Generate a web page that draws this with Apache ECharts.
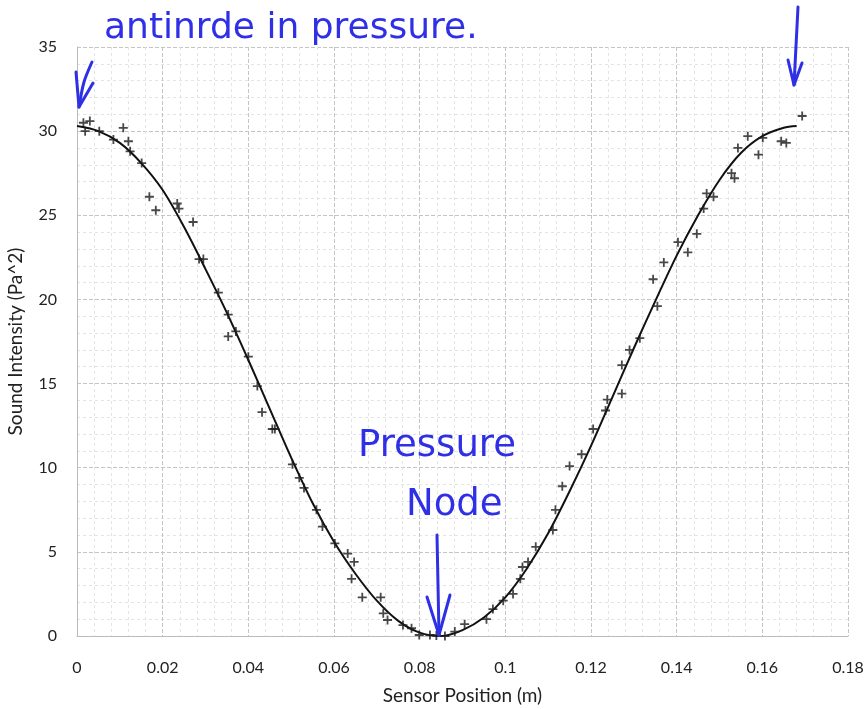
<!DOCTYPE html>
<html>
<head>
<meta charset="utf-8">
<script src="https://cdn.jsdelivr.net/npm/echarts@6/dist/echarts.min.js"></script>
<style>html,body{margin:0;padding:0;background:#fff}#c{width:865px;height:709px}</style>
</head>
<body>
<div id="c"></div>
<script>
// Measured data points (sensor position m, intensity Pa^2)
const pointX = [0.0015,0.0030,0.0019,0.0052,0.0085,0.0108,0.0120,0.0124,0.0151,0.0169,0.0184,0.0234,0.0238,0.0271,0.0285,0.0295,0.0330,0.0353,0.0371,0.0353,0.0400,0.0421,0.0432,0.0456,0.0462,0.0503,0.0519,0.0530,0.0559,0.0573,0.0602,0.0632,0.0647,0.0641,0.0666,0.0709,0.0715,0.0725,0.0761,0.0781,0.0799,0.0824,0.0839,0.0859,0.0882,0.0905,0.0956,0.0971,0.0995,0.1018,0.1035,0.1040,0.1053,0.1071,0.1111,0.1117,0.1133,0.1150,0.1178,0.1205,0.1234,0.1238,0.1272,0.1272,0.1290,0.1314,0.1355,0.1345,0.1370,0.1426,0.1403,0.1447,0.1463,0.1470,0.1486,0.1528,0.1535,0.1543,0.1566,0.1591,0.1601,0.1644,0.1656,0.1693];
const pointY = [30.5,30.6,30.0,30.0,29.5,30.2,29.4,28.8,28.1,26.1,25.3,25.7,25.4,24.6,22.4,22.4,20.4,19.1,18.1,17.8,16.6,14.85,13.3,12.3,12.3,10.2,9.4,8.8,7.5,6.5,5.5,4.9,4.4,3.4,2.3,2.3,1.35,0.95,0.65,0.46,0.06,0.06,0.03,0.0,0.26,0.7,1.0,1.6,2.1,2.5,3.4,4.1,4.4,5.3,6.3,7.5,8.9,10.1,10.8,12.3,13.4,14.05,14.4,16.1,17.0,17.7,19.6,21.2,22.2,22.8,23.4,23.9,25.4,26.3,26.1,27.5,27.2,29.0,29.7,28.6,29.6,29.4,29.3,30.9];
// Fitted curve
const fitX = [0,0.005,0.01,0.015,0.02,0.025,0.03,0.035,0.04,0.045,0.05,0.055,0.06,0.065,0.07,0.075,0.08,0.085,0.09,0.095,0.1,0.105,0.11,0.115,0.12,0.125,0.13,0.135,0.14,0.145,0.15,0.155,0.16,0.165,0.168];
const fitY = [30.3,30.0,29.3,28.1,26.5,24.3,21.8,19.2,16.4,13.5,10.6,7.9,5.6,3.7,2.1,0.9,0.2,0.0,0.35,1.1,2.3,4.0,6.1,8.6,11.3,14.2,17.1,19.9,22.6,25.0,27.1,28.7,29.7,30.2,30.3];
const xTickLabels = ['0','0.02','0.04','0.06','0.08','0.1','0.12','0.14','0.16','0.18'];
const yTickLabels = ['0','5','10','15','20','25','30','35'];
const annotations = ['antinrde in pressure.', 'Pressure', 'Node'];

const blue = '#2f2fe6';
const chart = echarts.init(document.getElementById('c'));
const pts = pointX.map((x,i)=>[x,pointY[i]]);
const fit = fitX.map((x,i)=>[x,fitY[i]]);
const plus = 'path://M4,0h2v4h4v2h-4v4h-2v-4h-4v-2h4z';
const hand = () => ({fontFamily:'DejaVu Sans', fill: blue, fontWeight:'normal'});
const pen = () => ({stroke:blue,lineWidth:3,fill:null,lineCap:'round',lineJoin:'round',lineDash:null});
const lab = 'Lato, "Open Sans", sans-serif';
function stroke(points, smooth){
  return {type:'polyline',z:100,silent:true,shape:{points:points,smooth:smooth||0},style:pen()};
}

chart.setOption({
  backgroundColor:'#fff',
  animation:false,
  grid:{left:77,right:17,top:47,bottom:73,outerBoundsMode:'none',containLabel:false},
  xAxis:{
    type:'value',min:0,max:0.18,interval:0.02,
    name:'Sensor Position (m)',nameLocation:'middle',nameGap:50,
    nameTextStyle:{fontSize:19,color:'#222',fontFamily:lab},
    axisLine:{show:true,lineStyle:{color:'#bbb',width:1}},
    axisTick:{show:false},
    axisLabel:{fontSize:16,color:'#222',margin:24,fontFamily:lab,
      formatter:v=>xTickLabels[Math.round(v/0.02)]},
    splitLine:{show:true,lineStyle:{color:'#c4c4c4',type:[4,2],width:1}},
    minorTick:{show:false,splitNumber:5},
    minorSplitLine:{show:true,lineStyle:{color:'#e4e4e4',type:[3,3],width:1}}
  },
  yAxis:{
    type:'value',min:0,max:35,interval:5,
    name:'Sound Intensity (Pa^2)',nameLocation:'middle',nameGap:52,
    nameTextStyle:{fontSize:19,color:'#222',fontFamily:lab},
    axisLine:{show:true,lineStyle:{color:'#bbb',width:1}},
    axisTick:{show:false},
    axisLabel:{fontSize:16,color:'#222',margin:20,fontFamily:lab,
      formatter:v=>yTickLabels[Math.round(v/5)]},
    splitLine:{show:true,lineStyle:{color:'#c4c4c4',type:[4,2],width:1}},
    minorTick:{show:false,splitNumber:5},
    minorSplitLine:{show:true,lineStyle:{color:'#e4e4e4',type:[3,3],width:1}}
  },
  series:[
    {type:'line',data:fit,smooth:0.3,showSymbol:false,
     lineStyle:{color:'#111',width:2},z:2},
    {type:'scatter',data:pts,symbol:plus,symbolSize:9,
     itemStyle:{color:'#1a1a1a'},z:3}
  ],
  graphic:{elements:[
    {type:'text',z:100,left:104,top:11,style:Object.assign({text:annotations[0],fontSize:36},hand())},
    {type:'text',z:100,left:358,top:428,style:Object.assign({text:annotations[1],fontSize:37},hand())},
    {type:'text',z:100,left:406,top:487,style:Object.assign({text:annotations[2],fontSize:37},hand())},
    stroke([[92,62],[84,82],[79,107]],0.3),
    stroke([[76,72],[79,107],[93,83]]),
    stroke([[798,7],[794,85]]),
    stroke([[788,60],[794,85],[802,63]]),
    stroke([[437,535],[439,635]]),
    stroke([[427,597],[439,635],[450,595]])
  ]}
});
</script>
</body>
</html>
